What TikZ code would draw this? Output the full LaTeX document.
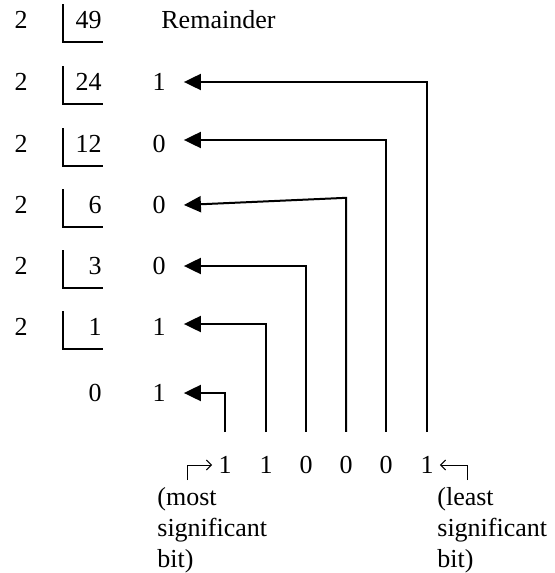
\documentclass[tikz,border=0pt]{standalone}
\usepackage{fontspec}
\setmainfont{Liberation Serif}
\usetikzlibrary{arrows.meta}

\tikzset{
  digit/.style={inner sep=0pt, font=\fontsize{13}{15.5}\selectfont},
  bitarrow/.style={line width=1pt, -{Triangle[length=8.5pt,width=8pt]}},
  bracket/.style={line width=1pt},
  pointer/.style={line width=0.5pt, -{Straight Barb[length=2.5pt,width=5pt]}},
}

\begin{document}
\begin{tikzpicture}[x=0.5pt, y=-0.5pt]
\useasboundingbox (0,0) rectangle (555,573);

% divisors and quotients
\node [digit] (two1) at (21,20) {2};
\node [digit, anchor=east] (q1) at (102,20) {49};
\node [digit] (two2) at (21,82) {2};
\node [digit, anchor=east] (q2) at (102,82) {24};
\node [digit] (two3) at (21,144) {2};
\node [digit, anchor=east] (q3) at (102,144) {12};
\node [digit] (two4) at (21,205) {2};
\node [digit, anchor=east] (q4) at (102,205) {6};
\node [digit] (two5) at (21,266) {2};
\node [digit, anchor=east] (q5) at (102,266) {3};
\node [digit] (two6) at (21,327) {2};
\node [digit, anchor=east] (q6) at (102,327) {1};
\node [digit, anchor=east] (q7) at (102,393) {0};

% division brackets
\draw [bracket] ([shift={(-19.5pt,8pt)}]q1.east) |- ([shift={(0.5pt,-11pt)}]q1.east);
\draw [bracket] ([shift={(-19.5pt,8pt)}]q2.east) |- ([shift={(0.5pt,-11pt)}]q2.east);
\draw [bracket] ([shift={(-19.5pt,8pt)}]q3.east) |- ([shift={(0.5pt,-11pt)}]q3.east);
\draw [bracket] ([shift={(-19.5pt,8pt)}]q4.east) |- ([shift={(0.5pt,-11pt)}]q4.east);
\draw [bracket] ([shift={(-19.5pt,8pt)}]q5.east) |- ([shift={(0.5pt,-11pt)}]q5.east);
\draw [bracket] ([shift={(-19.5pt,8pt)}]q6.east) |- ([shift={(0.5pt,-11pt)}]q6.east);

% remainders
\node [digit, anchor=west] (head) at (161,20) {Remainder};
\node [digit] (r2) at (159,82) {1};
\node [digit] (r3) at (159,144) {0};
\node [digit] (r4) at (159,205) {0};
\node [digit] (r5) at (159,266) {0};
\node [digit] (r6) at (159,327) {1};
\node [digit] (r7) at (159,393) {1};

% binary result
\node [digit] (b1) at (225,465) {1};
\node [digit] (b2) at (266,465) {1};
\node [digit] (b3) at (306,465) {0};
\node [digit] (b4) at (346,465) {0};
\node [digit] (b5) at (386,465) {0};
\node [digit] (b6) at (427,465) {1};

\draw [bitarrow] ([yshift=12pt]b6.north) |- ([xshift=9pt]r2.east);
\draw [bitarrow] ([yshift=12pt]b5.north) |- ([xshift=9pt,yshift=2pt]r3.east);
\draw [bitarrow] ([yshift=12pt]b4.north) -- ++(0,-234) -- ([xshift=9pt]r4.east);
\draw [bitarrow] ([yshift=12pt]b3.north) |- ([xshift=9pt]r5.east);
\draw [bitarrow] ([yshift=12pt]b2.north) |- ([xshift=9pt,yshift=1.5pt]r6.east);
\draw [bitarrow] ([yshift=12pt]b1.north) |- ([xshift=9pt]r7.east);

% labels
\node [digit, anchor=north west, align=left] (msb) at (157,487) {(most\\significant\\bit)};
\node [digit, anchor=north west, align=left] (lsb) at (437,487) {(least\\significant\\bit)};

\coordinate (msbfoot) at (187,480);
\coordinate (lsbfoot) at (467,480);
\draw [pointer] (msbfoot) |- ([xshift=-3pt]b1.west);
\draw [pointer] (lsbfoot) |- ([xshift=3pt]b6.east);
\end{tikzpicture}
\end{document}
